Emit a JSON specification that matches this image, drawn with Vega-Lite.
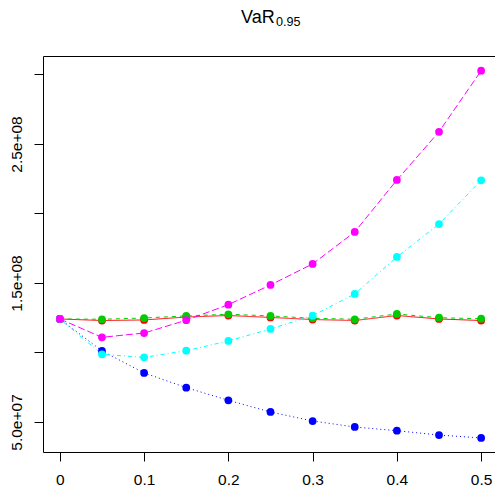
{
  "$schema": "https://vega.github.io/schema/vega-lite/v6.json",
  "width": 455,
  "height": 396,
  "autosize": {"type": "none"},
  "padding": {"left": 43, "top": 56, "right": 0, "bottom": 36},
  "background": "white",
  "config": {
    "view": {"stroke": "black", "strokeWidth": 1},
    "axis": {
      "grid": false,
      "domain": false,
      "tickColor": "black",
      "tickWidth": 1,
      "tickSize": 9,
      "labelColor": "black",
      "labelFont": "Liberation Sans",
      "labelFontSize": 15.5,
      "titleFont": "Liberation Sans",
      "titleFontWeight": "normal",
      "titleColor": "black",
      "titleAngle": 0,
      "titleAlign": "left",
      "titleBaseline": "alphabetic"
    }
  },
  "data": {
    "values": [
      {"series": "r", "x": 0, "y": 124100000},
      {"series": "r", "x": 0.05, "y": 123000000},
      {"series": "r", "x": 0.1, "y": 123400000},
      {"series": "r", "x": 0.15, "y": 125500000},
      {"series": "r", "x": 0.2, "y": 126600000},
      {"series": "r", "x": 0.25, "y": 125200000},
      {"series": "r", "x": 0.3, "y": 123700000},
      {"series": "r", "x": 0.35, "y": 123000000},
      {"series": "r", "x": 0.4, "y": 126600000},
      {"series": "r", "x": 0.45, "y": 124100000},
      {"series": "r", "x": 0.5, "y": 123000000},
      {"series": "g", "x": 0, "y": 124100000},
      {"series": "g", "x": 0.05, "y": 123900000},
      {"series": "g", "x": 0.1, "y": 124800000},
      {"series": "g", "x": 0.15, "y": 126300000},
      {"series": "g", "x": 0.2, "y": 127500000},
      {"series": "g", "x": 0.25, "y": 126300000},
      {"series": "g", "x": 0.3, "y": 124600000},
      {"series": "g", "x": 0.35, "y": 123900000},
      {"series": "g", "x": 0.4, "y": 127700000},
      {"series": "g", "x": 0.45, "y": 125000000},
      {"series": "g", "x": 0.5, "y": 124300000},
      {"series": "b", "x": 0, "y": 124100000},
      {"series": "b", "x": 0.05, "y": 101100000},
      {"series": "b", "x": 0.1, "y": 85300000},
      {"series": "b", "x": 0.15, "y": 74700000},
      {"series": "b", "x": 0.2, "y": 65600000},
      {"series": "b", "x": 0.25, "y": 57200000},
      {"series": "b", "x": 0.3, "y": 50700000},
      {"series": "b", "x": 0.35, "y": 46400000},
      {"series": "b", "x": 0.4, "y": 43700000},
      {"series": "b", "x": 0.45, "y": 40600000},
      {"series": "b", "x": 0.5, "y": 38500000},
      {"series": "c", "x": 0, "y": 124100000},
      {"series": "c", "x": 0.05, "y": 98700000},
      {"series": "c", "x": 0.1, "y": 96500000},
      {"series": "c", "x": 0.15, "y": 101300000},
      {"series": "c", "x": 0.2, "y": 108300000},
      {"series": "c", "x": 0.25, "y": 116900000},
      {"series": "c", "x": 0.3, "y": 126500000},
      {"series": "c", "x": 0.35, "y": 142100000},
      {"series": "c", "x": 0.4, "y": 168700000},
      {"series": "c", "x": 0.45, "y": 192400000},
      {"series": "c", "x": 0.5, "y": 223900000},
      {"series": "m", "x": 0, "y": 124100000},
      {"series": "m", "x": 0.05, "y": 110900000},
      {"series": "m", "x": 0.1, "y": 114000000},
      {"series": "m", "x": 0.15, "y": 123200000},
      {"series": "m", "x": 0.2, "y": 134400000},
      {"series": "m", "x": 0.25, "y": 148600000},
      {"series": "m", "x": 0.3, "y": 163700000},
      {"series": "m", "x": 0.35, "y": 186700000},
      {"series": "m", "x": 0.4, "y": 224100000},
      {"series": "m", "x": 0.45, "y": 258800000},
      {"series": "m", "x": 0.5, "y": 302700000}
    ]
  },
  "encoding": {
    "x": {
      "field": "x",
      "type": "quantitative",
      "scale": {"domain": [-0.02, 0.52], "nice": false, "zero": false},
      "axis": {
        "title": "VaR",
        "titleFontSize": 18,
        "titleX": 197.5,
        "titleY": -429.3,
        "values": [0, 0.1, 0.2, 0.3, 0.4, 0.5],
        "labelPadding": 11,
        "format": "~g"
      }
    },
    "y": {
      "field": "y",
      "type": "quantitative",
      "scale": {"domain": [28400000, 313300000], "nice": false, "zero": false},
      "axis": {
        "title": "0.95",
        "titleFontSize": 12.6,
        "titleX": 232.5,
        "titleY": -30.3,
        "values": [50000000, 100000000, 150000000, 200000000, 250000000, 300000000],
        "labelExpr": "datum.value == 50000000 ? '5.0e+07' : datum.value == 150000000 ? '1.5e+08' : datum.value == 250000000 ? '2.5e+08' : ''",
        "labelAngle": -90,
        "labelAlign": "center",
        "labelBaseline": "alphabetic",
        "labelPadding": 13
      }
    },
    "color": {
      "field": "series",
      "type": "nominal",
      "scale": {"domain": ["r", "g", "b", "c", "m"], "range": ["#FF0000", "#00CD00", "#0000FF", "#00FFFF", "#FF00FF"]},
      "legend": null
    }
  },
  "layer": [
    {
      "mark": {"type": "line", "strokeWidth": 1, "clip": true},
      "encoding": {
        "strokeDash": {
          "field": "series",
          "type": "nominal",
          "scale": {"domain": ["r", "g", "b", "c", "m"], "range": [[1, 0], [4, 4], [1, 3], [1, 3, 4, 3], [7, 3]]},
          "legend": null
        }
      }
    },
    {
      "mark": {"type": "point", "filled": true, "opacity": 1, "size": 60, "shape": "circle", "strokeWidth": 0}
    }
  ]
}
